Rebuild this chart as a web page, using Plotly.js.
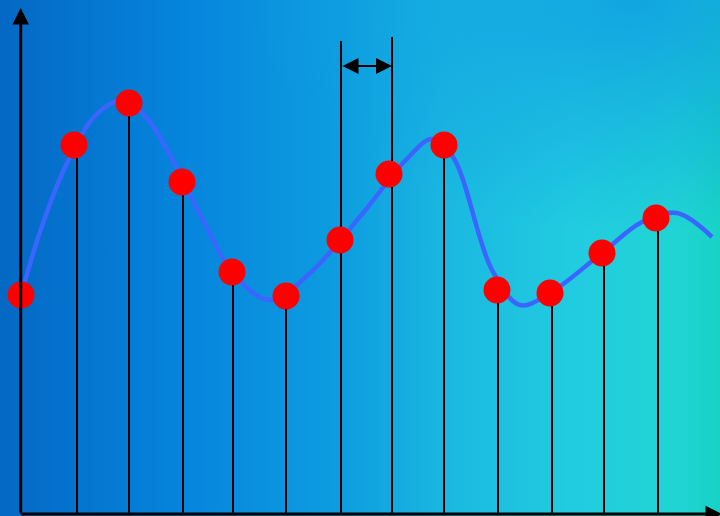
<!DOCTYPE html>
<html>
<head>
<meta charset="utf-8">
<script src="https://cdn.plot.ly/plotly-3.0.1.min.js"></script>
<style>
  html, body { margin: 0; padding: 0; }
  #chart {
    width: 720px; height: 516px;
    background:
      radial-gradient(ellipse 55% 45% at 88% 0%, rgba(16,160,226,0.9), rgba(16,160,226,0)),
      linear-gradient(to right, #0468c4 0%, #0584dc 25%, #0e9ee0 48%, #1ab8e0 62%, #22cce0 80%, #20d4d4 94%, #18d2c6 100%);
  }
</style>
</head>
<body>
<div id="chart"></div>
<script>
// Sample instants (stem positions) and marker positions
const stemT   = [1, 57, 109, 163, 213, 266, 321, 372, 424, 478, 532, 584, 638];
const markerT = [1, 54, 109, 162, 212, 266, 320, 369, 424, 477, 530, 582, 636];
const sampleV = [2.19, 3.69, 4.11, 3.32, 2.42, 2.18, 2.74, 3.40, 3.69, 2.24, 2.21, 2.61, 2.96];

// Continuous signal
const curveT = [1, 22, 47, 75, 100, 125, 183, 212, 250, 290, 343, 385, 412, 433, 472, 500, 530, 582, 622, 657, 692];
const curveV = [2.19, 2.88, 3.51, 3.98, 4.13, 3.98, 2.94, 2.42, 2.14, 2.41, 3.01, 3.53, 3.75, 3.57, 2.44, 2.09, 2.21, 2.61, 2.92, 3.01, 2.77];

// Sampling-interval guides (extended stems) and their top
const intervalT = [321, 372];
const intervalTop = [4.73, 4.77];
const intervalArrowV = 4.48;

// Axis extents
const xAxisEnd = 702;
const yAxisEnd = 5.06;

const stemX = [], stemY = [];
stemT.forEach((t, i) => { stemX.push(t, t, null); stemY.push(0, sampleV[i], null); });
const guideX = [], guideY = [];
intervalT.forEach((t, i) => { guideX.push(t, t, null); guideY.push(0, intervalTop[i], null); });

const traces = [
  { x: guideX, y: guideY, mode: 'lines', line: { color: '#000', width: 2 }, hoverinfo: 'skip' },
  { x: stemX, y: stemY, mode: 'lines', line: { color: '#000', width: 2 }, hoverinfo: 'skip' },
  { x: curveT, y: curveV, mode: 'lines', line: { color: '#3a66ff', width: 4.5, shape: 'spline', smoothing: 1 } },
  { x: markerT, y: sampleV, mode: 'markers', marker: { color: '#ff0000', size: 27, line: { width: 0 } } }
];

const layout = {
  width: 720, height: 516,
  margin: { l: 0, r: 0, t: 0, b: 0 },
  paper_bgcolor: 'rgba(0,0,0,0)',
  plot_bgcolor: 'rgba(0,0,0,0)',
  showlegend: false,
  xaxis: { range: [-20, 700], visible: false, fixedrange: true },
  yaxis: { range: [-0.02, 5.14], visible: false, fixedrange: true },
  annotations: [
    { x: 0.7, y: yAxisEnd, ax: 0.7, ay: 0, xref: 'x', yref: 'y', axref: 'x', ayref: 'y',
      showarrow: true, arrowhead: 2, arrowsize: 1.1, arrowwidth: 3, arrowcolor: '#000', text: '' , standoff: 0},
    { x: xAxisEnd, y: 0, ax: 0, ay: 0, xref: 'x', yref: 'y', axref: 'x', ayref: 'y',
      showarrow: true, arrowhead: 2, arrowsize: 1.1, arrowwidth: 3, arrowcolor: '#000', text: '', standoff: 0 },
    { x: intervalT[1], y: intervalArrowV, ax: intervalT[0], ay: intervalArrowV, xref: 'x', yref: 'y', axref: 'x', ayref: 'y',
      showarrow: true, arrowhead: 2, startarrowhead: 2, arrowside: 'end+start', arrowsize: 1.6, startarrowsize: 1.6,
      arrowwidth: 2, arrowcolor: '#000', text: '', standoff: 0, startstandoff: 0 }
  ]
};

Plotly.newPlot('chart', traces, layout, { staticPlot: true, displayModeBar: false });
</script>
</body>
</html>
